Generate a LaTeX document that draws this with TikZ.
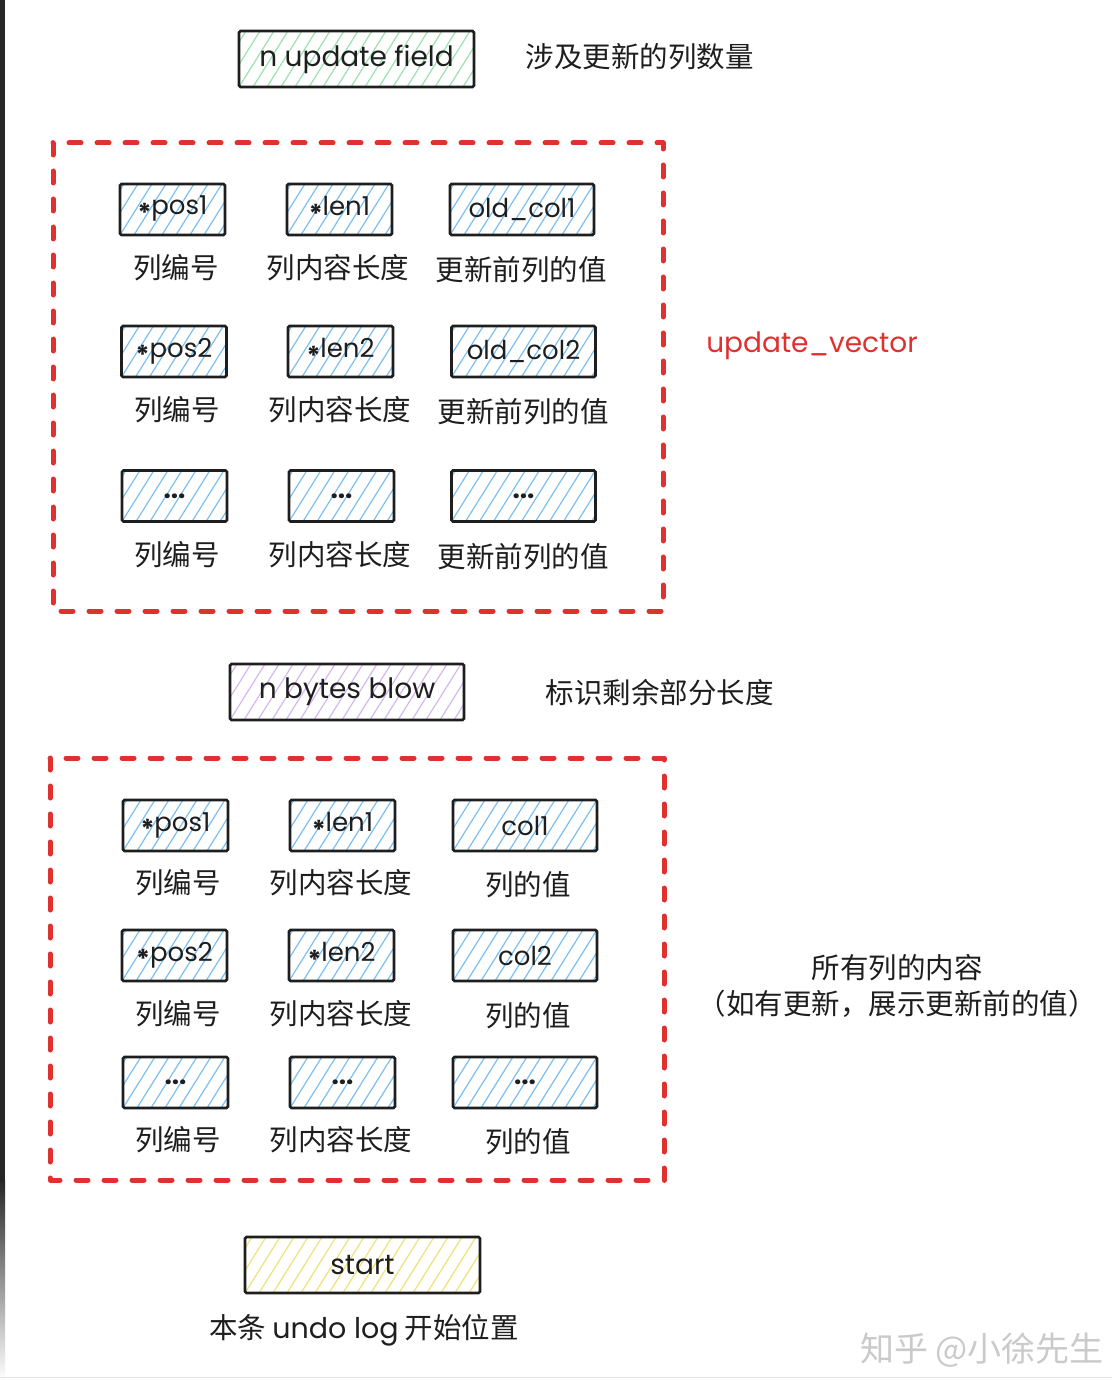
\documentclass[tikz,border=0pt]{standalone}
\usepackage{fontspec}
\setmainfont{Noto Sans CJK SC}
\newfontfamily\hand{Poppins}
\usetikzlibrary{calc}

\definecolor{exred}{HTML}{E03131}
\definecolor{ink}{HTML}{1E1E1E}
\definecolor{hblue}{HTML}{7CC0F0}
\definecolor{hgreen}{HTML}{9CE2AE}
\definecolor{hpurple}{HTML}{D4B8F2}
\definecolor{hyellow}{HTML}{F0E27A}
\definecolor{wmark}{HTML}{CACACA}

% asterisk set on the text midline, as a bold star
\newcommand\midstar{\raisebox{-0.3em}{\bfseries *}}
\newcommand\dotrow{{\bfseries ...}}

\tikzset{
  hatch/.style={path picture={
    \foreach \k in {-8,...,22}
      \draw[#1, line width=1.2pt]
        ([xshift=\k*14pt]path picture bounding box.south west) -- ++(58:140pt);
  }},
  cell/.style={draw=ink, line width=2.6pt, rounded corners=1.5pt,
    minimum height=51pt, inner sep=0pt, text=ink,
    font=\hand\fontsize{26}{30}\selectfont},
  small/.style={cell, minimum width=105pt, hatch=hblue},
  wide/.style={cell, minimum width=144pt, hatch=hblue},
  bar/.style={cell, minimum width=235pt, minimum height=56pt, font=\hand\fontsize{28}{32}\selectfont},
  lbl/.style={text=ink, inner sep=0pt, font=\fontsize{28.5}{35}\selectfont},
  group/.style={draw=exred, line width=5pt, dash pattern=on 12pt off 16pt,
    line cap=round, line join=round},
}

\begin{document}
\begin{tikzpicture}[x=1pt, y=1pt]
\useasboundingbox (0,0) rectangle (1112,-1380);
\fill[white] (0,0) rectangle (1112,-1380);

% dark strip along the left edge
\fill[black!85] (0,0) rectangle (5,-1180);
\shade[top color=black!85, bottom color=white] (0,-1180) rectangle (5,-1380);
\draw[black!10, line width=1.5pt] (0,-1377.5) -- (1112,-1377.5);

% header field
\node[bar, hatch=hgreen] (nupd) at (356.5,-59) {n update field};
\node[lbl] (nupdtxt) at (639.5,-57) {涉及更新的列数量};

% update_vector group
\draw[group] (53,-143) rectangle (663,-611);
\node[text=exred, font=\hand\fontsize{28}{32}\selectfont] (uvec) at (812,-346) {update\_vector};

\node[small] (ap1) at (172.5,-209.5) {\midstar pos1};
\node[small] (al1) at (339.5,-209.5) {\midstar len1};
\node[wide]  (ao1) at (522,-209.5) {old\_col1};
\node[lbl] (apt1) at (176,-268) {列编号};
\node[lbl] (alt1) at (338,-268) {列内容长度};
\node[lbl] (aot1) at (521,-270) {更新前列的值};

\node[small] (ap2) at (174,-351.5) {\midstar pos2};
\node[small] (al2) at (340.5,-351.5) {\midstar len2};
\node[wide]  (ao2) at (523.5,-351.5) {old\_col2};
\node[lbl] (apt2) at (177,-410) {列编号};
\node[lbl] (alt2) at (340,-410) {列内容长度};
\node[lbl] (aot2) at (523,-412) {更新前列的值};

\node[small] (ap3) at (174.5,-496) {\dotrow};
\node[small] (al3) at (341.5,-496) {\dotrow};
\node[wide]  (ao3) at (523.5,-496) {\dotrow};
\node[lbl] (apt3) at (177,-555) {列编号};
\node[lbl] (alt3) at (340,-555) {列内容长度};
\node[lbl] (aot3) at (523,-557) {更新前列的值};

% remaining length
\node[bar, minimum width=234pt, hatch=hpurple] (nbytes) at (347,-692) {n bytes blow};
\node[lbl] (nbytestxt) at (659.5,-693) {标识剩余部分长度};

% all columns group
\draw[group] (50,-758) rectangle (664,-1180);
\node[lbl, align=center, font=\fontsize{28.5}{36}\selectfont] (alltxt) at (897,-986)
  {所有列的内容\\（如有更新，展示更新前的值）};

\node[small] (bp1) at (175.5,-825.5) {\midstar pos1};
\node[small] (bl1) at (342.5,-825.5) {\midstar len1};
\node[wide]  (bc1) at (525,-825.5) {col1};
\node[lbl] (bpt1) at (178,-883) {列编号};
\node[lbl] (blt1) at (341,-883) {列内容长度};
\node[lbl] (bct1) at (528,-885) {列的值};

\node[small] (bp2) at (174.5,-955.5) {\midstar pos2};
\node[small] (bl2) at (341.5,-955.5) {\midstar len2};
\node[wide]  (bc2) at (525,-955.5) {col2};
\node[lbl] (bpt2) at (178,-1014) {列编号};
\node[lbl] (blt2) at (341,-1014) {列内容长度};
\node[lbl] (bct2) at (528,-1016) {列的值};

\node[small] (bp3) at (175.5,-1082.5) {\dotrow};
\node[small] (bl3) at (342.5,-1082.5) {\dotrow};
\node[wide]  (bc3) at (525,-1082.5) {\dotrow};
\node[lbl] (bpt3) at (178,-1140) {列编号};
\node[lbl] (blt3) at (341,-1140) {列内容长度};
\node[lbl] (bct3) at (528,-1142) {列的值};

% start of the record
\node[bar, hatch=hyellow] (start) at (362.5,-1265) {start};
\node[lbl] (starttxt) at (364,-1330) {本条 {\hand undo log} 开始位置};

% watermark
\node[text=wmark, font=\fontsize{34}{40}\selectfont] (wm) at (982,-1350) {知乎 @小徐先生};
\end{tikzpicture}
\end{document}
